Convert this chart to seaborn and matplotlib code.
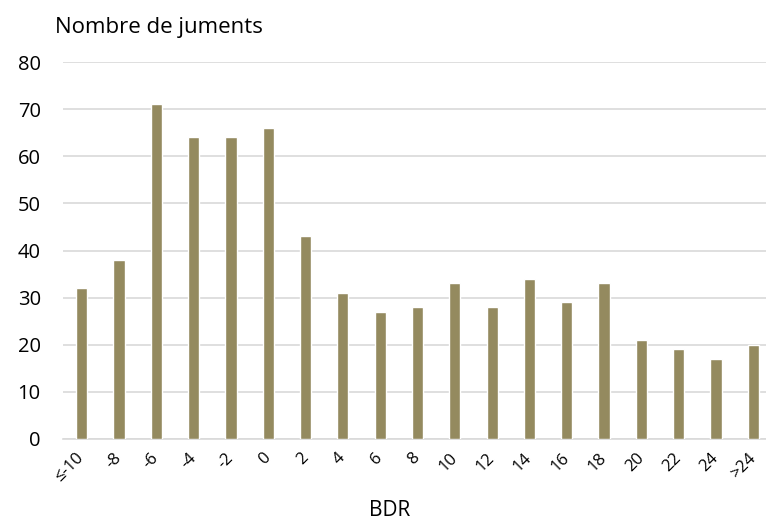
import numpy as np
import pandas as pd
import seaborn as sns
import matplotlib.pyplot as plt

# data
bdr = ['≤-10', '-8', '-6', '-4', '-2', '0', '2', '4', '6', '8', '10',
       '12', '14', '16', '18', '20', '22', '24', '>24']
juments = [32, 38, 71, 64, 64, 66, 43, 31, 27, 28, 33, 28, 34, 29, 33, 21, 19, 17, 20]

df = pd.DataFrame({'BDR': bdr, 'n': juments})

sns.set_style('white')
plt.rcParams['font.family'] = ['Open Sans', 'DejaVu Sans']
plt.rcParams['text.color'] = 'black'

fig = plt.figure(figsize=(7.66, 5.21), dpi=100)
ax = fig.add_axes([63 / 766, 82 / 521, (772 - 63) / 766, 377 / 521])

sns.barplot(data=df, x='BDR', y='n', color='#948A5F', width=0.3,
            saturation=1, ax=ax, zorder=3)

ax.set_ylim(0, 80)
ax.set_yticks(range(0, 81, 10))
ax.set_xlim(-0.5, 18.5)
ax.grid(axis='y', color='#d9d9d9', linewidth=1.2, zorder=0)
for s in ['top', 'right', 'left']:
    ax.spines[s].set_visible(False)
ax.spines['bottom'].set_color('#d9d9d9')
ax.spines['bottom'].set_linewidth(1.2)

ax.tick_params(axis='y', labelsize=14.5, length=0, pad=16, colors='black')
ax.tick_params(axis='x', labelsize=12, length=0, pad=12, colors='black')
plt.setp(ax.get_xticklabels(), rotation=45, ha='right', va='center',
         rotation_mode='anchor')

ax.set_xlabel('')
ax.set_ylabel('')
fig.text(390 / 766, 1 - 511 / 521, 'BDR', fontsize=15, ha='center', va='center')
fig.text(55 / 766, 1 - 28 / 521, 'Nombre de juments', fontsize=16, va='center')

fig.savefig('out.png', dpi=100)
